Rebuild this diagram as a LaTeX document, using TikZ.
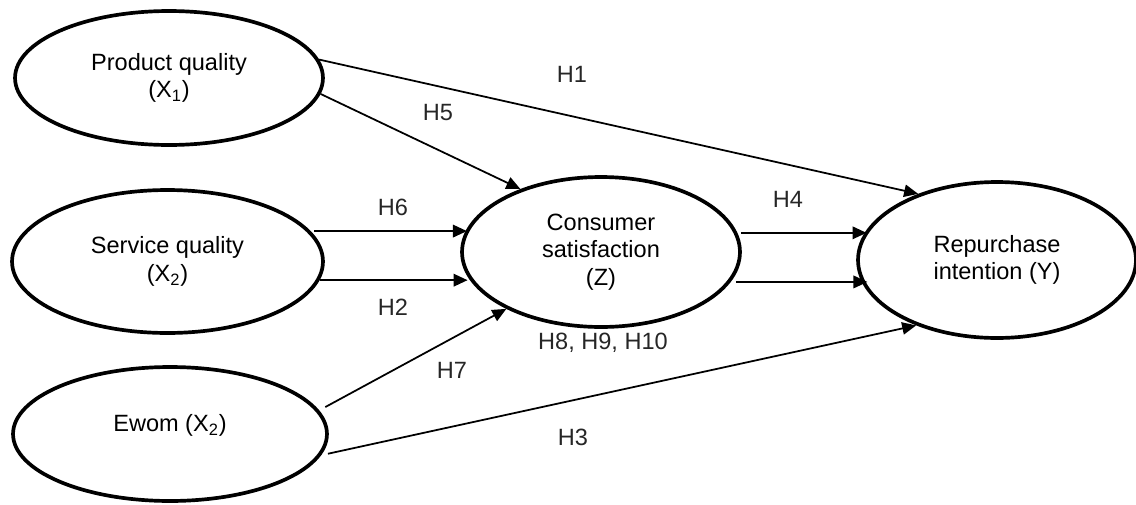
\documentclass[tikz,border=0pt]{standalone}
\usepackage{fontspec}
\setmainfont{Liberation Sans}
\usetikzlibrary{shapes.geometric,arrows.meta}
\begin{document}
\begin{tikzpicture}[x=0.02cm,y=-0.02cm,
  font=\fontsize{13.4}{15.6}\selectfont,
  latent/.style={ellipse,draw,line width=2.1pt,inner sep=0pt,align=center},
  arr/.style={line width=1pt,-{Triangle[length=8pt,width=7pt]}},
  harr/.style={line width=1.4pt,-{Triangle[length=8pt,width=7pt]}},
  lbl/.style={inner sep=0pt,text=black!85}]
\useasboundingbox (0,0) rectangle (1136,504);
\node[latent,minimum width=6.16cm,minimum height=2.68cm] (pq) at (169,78) {Product quality\\(X\textsubscript{1})};
\node[latent,minimum width=6.22cm,minimum height=2.86cm] (sq) at (167.5,261.5) {Service quality\\(X\textsubscript{2})};
\node[latent,minimum width=6.28cm,minimum height=2.68cm] (ew) at (170,434) {\raisebox{5pt}[\height][\depth]{Ewom (X\textsubscript{2})}};
\node[latent,minimum width=5.56cm,minimum height=3.0cm] (cs) at (601,252) {Consumer\\satisfaction\\(Z)};
\node[latent,minimum width=5.56cm,minimum height=3.12cm] (ri) at (997,260) {Repurchase\\intention (Y)};

\draw[arr] (pq.7) -- (ri.140);
\draw[arr] (pq.-6) -- (cs.142);
\draw[harr,shorten <=2pt] (sq.12.7) -- (sq.12.7 -| cs.170.6);
\draw[harr,shorten >=3pt] (sq.-7.8) -- (sq.-7.8 -| cs.-166.75);
\draw[harr,shorten <=2pt] (cs.8.5) -- (cs.8.5 -| ri.167.8);
\draw[harr,shorten <=3pt,shorten >=-3.5pt] (cs.-13.25) -- (cs.-13.25 -| ri.189.4);
\draw[arr,shorten <=4pt] (ew.9.1) -- (cs.211.6);
\draw[arr,shorten <=4pt] (ew.-8.4) -- (ri.219);

\node[lbl] (l1) at (572,74) {H1};
\node[lbl] (l5) at (438,113) {H5};
\node[lbl] (l6) at (393,207) {H6};
\node[lbl] (l2) at (393,307) {H2};
\node[lbl] (l7) at (452,370) {H7};
\node[lbl] (l3) at (573,437) {H3};
\node[lbl] (l4) at (788,199) {H4};
\node[lbl] (l8) at (603,343) {H8, H9, H10};
\end{tikzpicture}
\end{document}
